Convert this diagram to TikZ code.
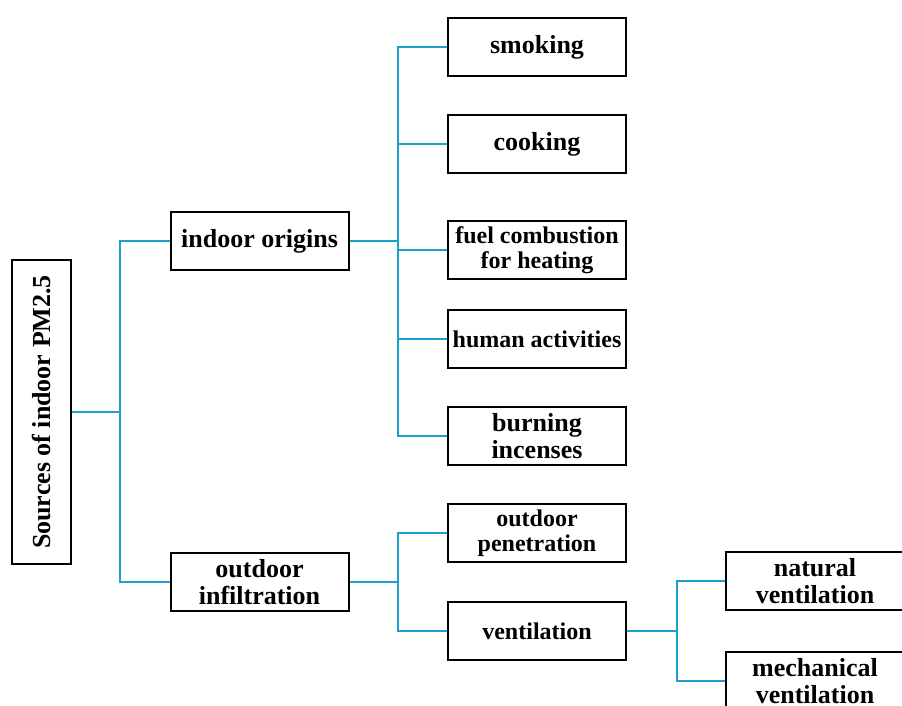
\documentclass[tikz,border=0pt]{standalone}
\usepackage{fontspec}
\setmainfont{Liberation Serif}
\usepackage{tikz}
\definecolor{linkblue}{RGB}{28,160,206}

\begin{document}
\begin{tikzpicture}[x=1pt,y=-1pt,
    box/.style={draw,line width=2pt,minimum width=178pt,minimum height=58pt,
        align=center,inner sep=1pt,font=\fontsize{#1}{\numexpr#1+1\relax}\selectfont\bfseries},
    box/.default=26,
    link/.style={draw=linkblue,line width=2.2pt}]
                    \useasboundingbox (0,0) rectangle (902,706);
                    \clip (0,0) rectangle (902,706);

                    \node[box,rotate=90,minimum width=304pt,minimum height=59pt] (root) at (41.5,412) {Sources of indoor PM2.5};
                    \node[box] (indoor) at (259.5,241) {indoor origins};
                    \node[box] (outdoor) at (259.5,582) {outdoor\\infiltration};

                    \coordinate (rootbus) at (120,412);
                    \coordinate (inbus) at (398,241);
                    \coordinate (outbus) at (398,582);
                    \coordinate (ventbus) at (677,631);

                    \draw[link](root.south) -- (rootbus);
                    \draw[link](rootbus) |- (indoor.west);
                    \draw[link](rootbus) |- (outdoor.west);

                    \foreach \y/\mylab/\mysize/\mytxt in {47/smoke/26/smoking, 144/cook/26/cooking,
                        250/fuel/24/{fuel combustion\\for heating}, 339/human/24/human activities,
                        436/incense/26/{burning\\incenses}} {
                        \node[box=\mysize] (\mylab) at (537,\y) {\mytxt};
                        \draw[link](inbus) |- (\mylab.west);
                    }
                    \draw[link](indoor.east) -- (inbus);

                    \foreach \y/\mylab/\mysize/\mytxt in {533/penetrate/24/{outdoor\\penetration},
                        631/vent/24/ventilation} {
                        \node[box=\mysize] (\mylab) at (537,\y) {\mytxt};
                        \draw[link](outbus) |- (\mylab.west);
                    }
                    \draw[link](outdoor.east) -- (outbus);

                    \foreach \y/\mylab/\mytxt in {581/natural/{natural\\ventilation},
                        681/mech/{mechanical\\ventilation}} {
                        \node[box] (\mylab) at (815,\y) {\mytxt};
                        \draw[link](ventbus) |- (\mylab.west);
                    }
                    \draw[link](vent.east) -- (ventbus);
                \end{tikzpicture}
\end{document}
